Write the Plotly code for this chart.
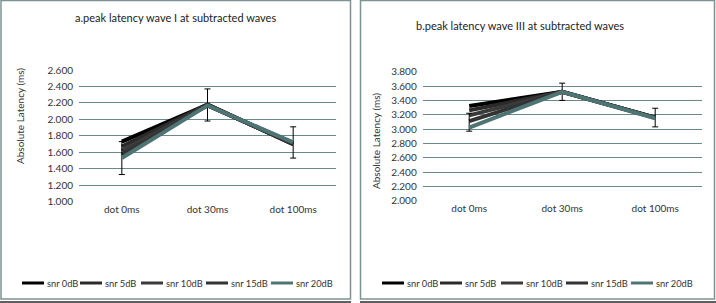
import plotly.graph_objects as go

categories = ["dot 0ms", "dot 30ms", "dot 100ms"]
series_names = ["snr 0dB", "snr 5dB", "snr 10dB", "snr 15dB", "snr 20dB"]

wave1 = {
    "snr 0dB":  [1.73, 2.18, 1.70],
    "snr 5dB":  [1.67, 2.18, 1.70],
    "snr 10dB": [1.62, 2.17, 1.71],
    "snr 15dB": [1.57, 2.17, 1.71],
    "snr 20dB": [1.53, 2.17, 1.72],
}
wave1_err_plus = [0.20, 0.20, 0.19]
wave1_err_minus = [0.20, 0.19, 0.19]

wave3 = {
    "snr 0dB":  [3.32, 3.52, 3.16],
    "snr 5dB":  [3.26, 3.52, 3.16],
    "snr 10dB": [3.19, 3.52, 3.16],
    "snr 15dB": [3.11, 3.52, 3.16],
    "snr 20dB": [3.02, 3.52, 3.15],
}
wave3_err_plus = [0.20, 0.12, 0.14]
wave3_err_minus = [0.05, 0.12, 0.12]

colors = ["#000000", "#2a2a2a", "#3a3a3a", "#333333", "#4e7474"]

W, H = 716, 303
def px(x): return x / W
def py(y): return 1 - y / H

FONT = "Lato, Open Sans, sans-serif"

fig = go.Figure()

for i, name in enumerate(series_names):
    last = i == len(series_names) - 1
    fig.add_trace(go.Scatter(
        x=categories, y=wave1[name], mode="lines", name=name, showlegend=False,
        line=dict(color=colors[i], width=4), xaxis="x", yaxis="y",
        error_y=dict(type="data", array=wave1_err_plus, arrayminus=wave1_err_minus,
                     color="#000000", thickness=1, width=3, visible=last),
    ))
for i, name in enumerate(series_names):
    last = i == len(series_names) - 1
    fig.add_trace(go.Scatter(
        x=categories, y=wave3[name], mode="lines", name=name, showlegend=False,
        line=dict(color=colors[i], width=4), xaxis="x2", yaxis="y2",
        error_y=dict(type="data", array=wave3_err_plus, arrayminus=wave3_err_minus,
                     color="#000000", thickness=1, width=3, visible=last),
    ))

font = dict(family=FONT, size=10, color="#333333")
grid = "#6a8a88"

shapes = [
    dict(type="rect", xref="paper", yref="paper", x0=px(1), x1=px(350.5), y0=py(299), y1=py(0.5),
         line=dict(color="#7d9292", width=1.5)),
    dict(type="rect", xref="paper", yref="paper", x0=px(360.5), x1=px(714.5), y0=py(299), y1=py(0.5),
         line=dict(color="#7d9292", width=1.5)),
    dict(type="line", xref="paper", yref="paper", x0=px(0), x1=px(351), y0=py(302), y1=py(302),
         line=dict(color="#2a2a2a", width=1.5)),
    dict(type="line", xref="paper", yref="paper", x0=px(360), x1=px(716), y0=py(302), y1=py(302),
         line=dict(color="#2a2a2a", width=1.5)),
]
annotations = [
    dict(text="a.peak latency wave I at subtracted waves", x=px(175), y=py(17),
         xref="paper", yref="paper", showarrow=False, xanchor="center", yanchor="middle",
         font=dict(family=FONT, size=11, color="#222")),
    dict(text="b.peak latency wave III at subtracted waves", x=px(520), y=py(25),
         xref="paper", yref="paper", showarrow=False, xanchor="center", yanchor="middle",
         font=dict(family=FONT, size=11, color="#222")),
    dict(text="Absolute Latency (ms)", x=px(20), y=py(116), textangle=-90,
         xref="paper", yref="paper", showarrow=False, xanchor="center", yanchor="middle",
         font=dict(family=FONT, size=10, color="#333")),
    dict(text="Absolute Latency (ms)", x=px(376), y=py(141), textangle=-90,
         xref="paper", yref="paper", showarrow=False, xanchor="center", yanchor="middle",
         font=dict(family=FONT, size=10, color="#333")),
]

# legends (one per panel)
legend_starts = [22, 80, 141, 206, 271]
for offset in (0, 360):
    for i, name in enumerate(series_names):
        x0 = offset + legend_starts[i]
        shapes.append(dict(type="line", xref="paper", yref="paper",
                           x0=px(x0), x1=px(x0 + 22), y0=py(283), y1=py(283),
                           line=dict(color=colors[i], width=3)))
        annotations.append(dict(text=name, x=px(x0 + 22.5), y=py(283), xref="paper", yref="paper",
                                showarrow=False, xanchor="left", yanchor="middle",
                                font=dict(family=FONT, size=9.3, color="#333")))

fig.update_layout(
    width=W, height=H, margin=dict(l=0, r=0, t=0, b=0, autoexpand=False),
    paper_bgcolor="white", plot_bgcolor="white", font=font, showlegend=False,
    xaxis=dict(domain=[px(79), px(336)], anchor="y", range=[-0.5, 2.5], showgrid=False,
               ticks="", showline=False, tickfont=font),
    yaxis=dict(domain=[py(201.7), py(70)], anchor="x", range=[1.0, 2.6], dtick=0.2,
               tickformat=".3f", gridcolor=grid, gridwidth=1.2, zeroline=False,
               showline=False, tickfont=font, ticklabelstandoff=5),
    xaxis2=dict(domain=[px(422.7), px(701.7)], anchor="y2", range=[-0.5, 2.5], showgrid=False,
                ticks="", showline=False, tickfont=font),
    yaxis2=dict(domain=[py(200.7), py(71.7)], anchor="x2", range=[2.0, 3.8], dtick=0.2,
                tickformat=".3f", gridcolor=grid, gridwidth=1.2, zeroline=False,
                showline=False, tickfont=font, ticklabelstandoff=5),
    shapes=shapes,
    annotations=annotations,
)

fig.write_html("out.html", config={"displayModeBar": False},
               post_script="document.body.style.margin='0';document.body.style.overflow='hidden';")
